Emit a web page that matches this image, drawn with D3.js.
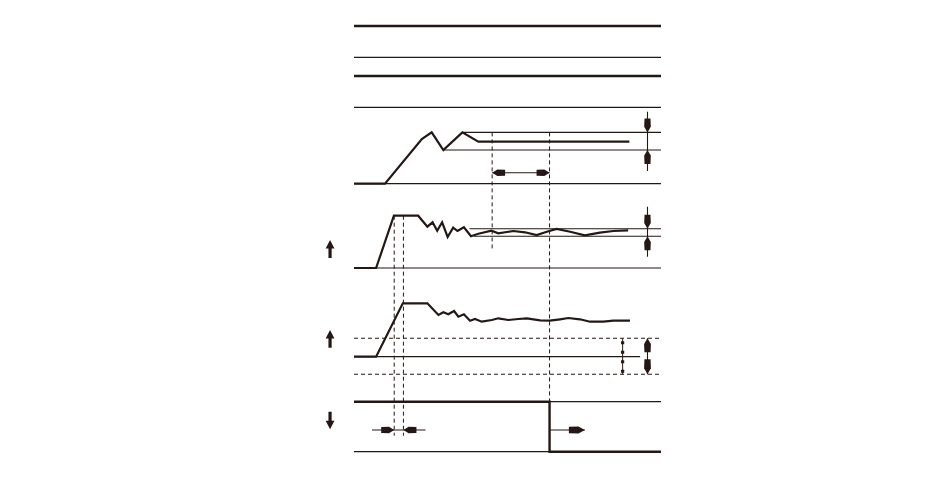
<!DOCTYPE html>
<html><head><meta charset="utf-8">
<script src="https://cdn.jsdelivr.net/npm/d3@7/dist/d3.min.js"></script>
<style>html,body{margin:0;padding:0;background:#fff;}svg{display:block;}</style>
</head><body>
<svg id="chart" width="950" height="492"></svg>
<script>
// ---------- data (time 0..100, signal values per panel) ----------
const topRowLevels = [62.6, 62.6];

const timeA  = [0, 10.1, 22.1, 25.3, 29.1, 35.3, 40.5, 89.7];
const valueA = [0, 0, 89.4, 102.6, 67.4, 102.6, 84, 84];
const bandA  = {upper: 102.6, upperFrom: 35.3, lower: 67.4, lowerFrom: 29.1};

const timeB  = [0, 7.2, 13.0, 20.9, 23.9, 25.6, 27.1, 28.7, 30.5, 32.3, 33.7, 35.8, 38.1, 40.5, 44.8, 47, 51.9, 55.7, 59.5, 62.8, 66, 70.4, 75.2, 80.1, 84.5, 89.3];
const valueB = [0, 0, 104.6, 104.6, 82.6, 91.4, 74.6, 91.4, 62, 80.6, 74, 81.4, 63.4, 68.6, 74.6, 69.4, 74, 71.4, 66, 72.6, 78, 72.6, 65.4, 70.6, 74, 75.4];
const bandB  = {upper: 78.6, upperFrom: 37.6, lower: 63.4, lowerFrom: 39};

const timeC  = [0, 7.2, 15.9, 23.9, 27.5, 29.1, 30.7, 32.6, 34, 35.8, 37.8, 39.4, 41.6, 44.9, 47, 50.3, 53.5, 56.3, 60.6, 63.8, 67.1, 69.8, 73.6, 76.9, 81.2, 84.5, 89.9];
const valueC = [0, 0, 106.8, 106.8, 83.4, 88.8, 84.8, 91.4, 80, 84.8, 72, 75.4, 70, 73.4, 76.8, 73.4, 75.4, 76.8, 72.8, 72, 74.8, 77.4, 74.8, 70, 70, 72, 72];
const bandC  = {upper: 36.8, lower: -35.2, refEnd: 93.2};

const timeD  = [0, 63.7, 63.7, 100];
const valueD = [100, 100, 0, 0];

const markerTimes = [13.1, 16.1, 45, 63.7];

// ---------- layout ----------
const INK = "#231815";
const svg = d3.select("#chart");
const x = d3.scaleLinear().domain([0, 100]).range([354, 661]);
const panelScale = base => d3.scaleLinear().domain([0, 100]).range([base, base - 50]);
const yR1 = panelScale(57.3), yR2 = panelScale(107.3);
const yA = panelScale(183.7), yB = panelScale(268), yC = panelScale(356.7), yD = panelScale(451.7);

function hline(t0, t1, v, ys, w, dash) {
  const l = svg.append("line").attr("x1", x(t0)).attr("x2", x(t1))
    .attr("y1", ys(v)).attr("y2", ys(v)).attr("stroke", INK).attr("stroke-width", w);
  if (dash) l.attr("stroke-dasharray", dash);
  return l;
}
function vline(t, y1, y2, w, dash) {
  const l = svg.append("line").attr("x1", x(t)).attr("x2", x(t))
    .attr("y1", y1).attr("y2", y2).attr("stroke", INK).attr("stroke-width", w);
  if (dash) l.attr("stroke-dasharray", dash);
  return l;
}
const lineGen = ys => d3.line().x(d => x(d[0])).y(d => ys(d[1]));
function signal(ts, vs, ys, w) {
  svg.append("path").datum(ts.map((t, i) => [t, vs[i]]))
    .attr("d", lineGen(ys)).attr("fill", "none").attr("stroke", INK)
    .attr("stroke-width", w).attr("stroke-linejoin", "miter");
}
// arrowhead: tip at (px,py), pointing direction angle (deg)
function head(px, py, angle, len = 13, w = 3.3) {
  const p = `M0,0 L${-len*0.4},${-w} L${-len},${-w*0.9} L${-len},${w*0.9} L${-len*0.4},${w} Z`;
  svg.append("path").attr("d", p).attr("fill", INK)
    .attr("transform", `translate(${px},${py}) rotate(${angle})`);
}
function bigArrow(t, yTip, yTail, dir) {
  // dir: -1 up, 1 down
  const cx = x(t), hl = 8.5, hw = 4.4, sw = 1.6;
  const yb = yTip - dir * hl;
  const p = `M${cx},${yTip} L${cx-hw},${yb} L${cx-sw},${yb} L${cx-sw},${yTail} L${cx+sw},${yTail} L${cx+sw},${yb} L${cx+hw},${yb} Z`;
  svg.append("path").attr("d", p).attr("fill", INK);
}

// ---------- top rows ----------
[yR1, yR2].forEach((ys, i) => {
  hline(0, 100, topRowLevels[i], ys, 2.3);
  hline(0, 100, 0, ys, 1.2);
});

// ---------- panel A ----------
hline(0, 100, 0, yA, 1.2);
hline(bandA.upperFrom, 100, bandA.upper, yA, 1.1);
hline(bandA.lowerFrom, 100, bandA.lower, yA, 1.1);
signal(timeA, valueA, yA, 2.2);
hline(45, 63.7, 22, yA, 1.1);
head(x(45), yA(22), 180);
head(x(63.7), yA(22), 0);
vline(95.6, yA(144), yA(25.4), 1.1);
head(x(95.6), yA(bandA.upper), 90, 14);
head(x(95.6), yA(bandA.lower), -90, 14);

// ---------- panel B ----------
hline(0, 100, 0, yB, 1.2);
hline(bandB.upperFrom, 100, bandB.upper, yB, 1.1);
hline(bandB.lowerFrom, 100, bandB.lower, yB, 1.1);
signal(timeB, valueB, yB, 2.2);
vline(95.6, yB(122.6), yB(22.6), 1.1);
head(x(95.6), yB(bandB.upper), 90, 14);
head(x(95.6), yB(bandB.lower), -90, 14);
bigArrow(-7.8, yB(56), yB(20), -1);

// ---------- panel C ----------
hline(0, 100, bandC.upper, yC, 1.1, "4,3");
hline(0, 100, bandC.lower, yC, 1.1, "4,3");
hline(0, bandC.refEnd, 0, yC, 1.2);
signal(timeC, valueC, yC, 2.2);
vline(87.5, yC(bandC.upper), yC(bandC.lower), 1);
vline(87.5, yC(bandC.upper) + 3, yC(bandC.lower), 3.2, "3,6.5");
vline(95.6, yC(bandC.upper), yC(bandC.lower), 1.1);
head(x(95.6), yC(bandC.upper), -90, 14, 3.4);
head(x(95.6), yC(bandC.lower), 90, 15, 3.4);
bigArrow(-7.8, yC(53.4), yC(18), -1);

// ---------- panel D ----------
hline(63.7, 100, 100, yD, 1.2);
hline(0, 63.7, 0, yD, 1.2);
signal(timeD, valueD, yD, 2.4);
hline(5.9, 23.3, 43.4, yD, 1.1);
head(x(13.1), yD(43.4), 0);
head(x(16.1), yD(43.4), 180);
hline(63.7, 75.2, 43.4, yD, 1.1);
head(x(75.2), yD(43.4), 0, 16, 3.6);
bigArrow(-7.8, yD(44.8), yD(80), 1);

// ---------- dashed markers ----------
const markerSpans = [
  [yB(104.6), yD(32)],
  [yB(104.6), yD(32)],
  [yA(bandA.upper), yB(34)],
  [yA(bandA.upper), yD(100)]
];
markerTimes.forEach((t, i) => vline(t, markerSpans[i][0], markerSpans[i][1], 1, "4,3"));
</script>
</body></html>
